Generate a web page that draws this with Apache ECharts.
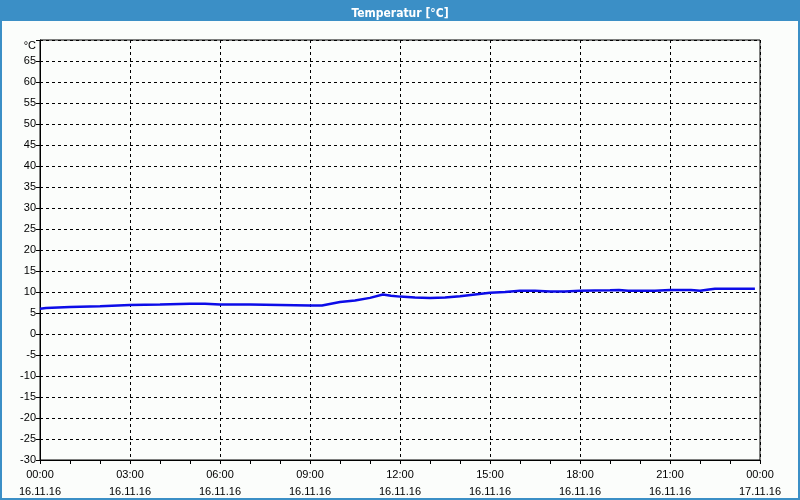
<!doctype html>
<html lang="de">
    <head>
        <meta charset="UTF-8" />
        <title>Temperatur</title>
        <script src="https://cdn.jsdelivr.net/npm/echarts@6/dist/echarts.min.js"></script>
        <style>
            body { margin: 0; }
        </style>
    </head>
    <body>
        <!-- Chart container -->
        <div id="main" style="width: 800px; height: 500px"></div>

        <script>
            // Measurement times (hours since 16.11.16 00:00) and temperatures
            const hours = [0, 0.2, 1, 2, 3, 4, 5, 5.5, 6, 7, 8, 9, 9.4, 9.7, 10, 10.5, 11, 11.43, 11.7, 12, 12.5, 13, 13.5, 14, 14.5, 15, 15.5, 16, 16.5, 17, 17.5, 18, 19, 19.3, 19.6, 20.5, 21, 21.7, 22, 22.3, 22.5, 23.83];
            const temps = [6.0, 6.2, 6.4, 6.6, 6.9, 7.0, 7.2, 7.2, 7.0, 7.0, 6.9, 6.8, 6.8, 7.2, 7.6, 8.0, 8.6, 9.4, 9.1, 8.9, 8.7, 8.6, 8.7, 9.0, 9.4, 9.8, 10.0, 10.3, 10.3, 10.1, 10.1, 10.3, 10.4, 10.5, 10.3, 10.3, 10.5, 10.5, 10.3, 10.6, 10.8, 10.8];

            // x tick labels, one per 3 hours
            const timeLabels = ["00:00", "03:00", "06:00", "09:00", "12:00", "15:00", "18:00", "21:00", "00:00"];
            const dateLabels = ["16.11.16", "16.11.16", "16.11.16", "16.11.16", "16.11.16", "16.11.16", "16.11.16", "16.11.16", "17.11.16"];

            const myChart = echarts.init(document.getElementById("main"));

            const font = "Liberation Sans";
            const blue = "#3b8fc6";

            const options = {
                backgroundColor: "#fbfdfb",
                animation: false,
                textStyle: { fontFamily: font },
                title: {
                    text: "Temperatur [°C]",
                    left: "center",
                    top: 3,
                    z: 10,
                    textStyle: {
                        color: "#fff",
                        fontSize: 12,
                        fontWeight: "bold",
                        fontFamily: '"DejaVu Sans Condensed", "DejaVu Sans"',
                    },
                },
                // window frame: title bar and thin borders
                graphic: [
                    { type: "rect", z: 0, shape: { x: 0, y: 0, width: 800, height: 21 }, style: { fill: blue } },
                    { type: "rect", z: 0, shape: { x: 0, y: 0, width: 2, height: 500 }, style: { fill: blue } },
                    { type: "rect", z: 0, shape: { x: 798, y: 0, width: 2, height: 500 }, style: { fill: blue } },
                    { type: "rect", z: 0, shape: { x: 0, y: 498, width: 800, height: 2 }, style: { fill: blue } },
                ],
                grid: {
                    left: 40,
                    right: 40,
                    top: 40,
                    bottom: 39,
                    show: true,
                    borderColor: "#000",
                    borderWidth: 1,
                    backgroundColor: "transparent",
                },
                xAxis: {
                    type: "value",
                    min: 0,
                    max: 24,
                    interval: 3,
                    axisLine: { onZero: false, lineStyle: { color: "#000", width: 1 } },
                    axisTick: { show: true, length: 4, lineStyle: { color: "#000" } },
                    minorTick: { show: true, splitNumber: 3, length: 4, lineStyle: { color: "#000" } },
                    splitLine: { show: true, lineStyle: { color: "#000", type: [3, 3], width: 1 } },
                    axisLabel: {
                        color: "#000",
                        fontSize: 11,
                        lineHeight: 17,
                        margin: 6,
                        formatter: (v) => {
                            const i = Math.round(v / 3);
                            return timeLabels[i] + "\n" + dateLabels[i];
                        },
                    },
                },
                yAxis: {
                    type: "value",
                    min: -30,
                    max: 70,
                    interval: 5,
                    axisLine: { show: true, onZero: false, lineStyle: { color: "#000", width: 1 } },
                    axisTick: { show: true, length: 4, lineStyle: { color: "#000" } },
                    splitLine: { show: true, lineStyle: { color: "#000", type: [3, 3], width: 1 } },
                    axisLabel: {
                        color: "#000",
                        fontSize: 11,
                        margin: 4,
                        formatter: (v) => (v === 70 ? "{u|°C}" : String(v)),
                        rich: { u: { fontSize: 11, color: "#000", padding: [12, 0, 0, 0] } },
                    },
                },
                series: [
                    {
                        name: "Temperatur",
                        type: "line",
                        showSymbol: false,
                        data: hours.map((h, i) => [h, temps[i]]),
                        lineStyle: { color: "#0c0ce8", width: 2.5 },
                    },
                ],
            };

            myChart.setOption(options);
        </script>
    </body>
</html>
